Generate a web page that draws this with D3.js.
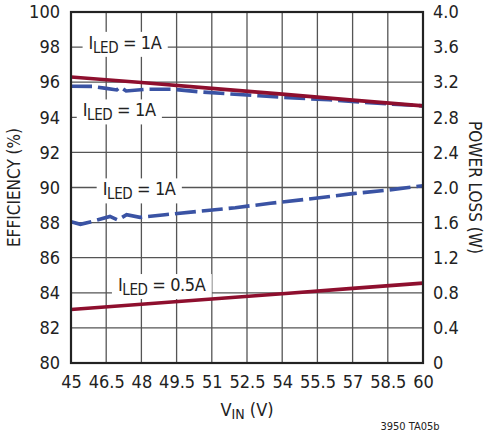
<!DOCTYPE html>
<html><head><meta charset="utf-8">
<script src="https://cdn.jsdelivr.net/npm/d3@7"></script>
<style>
body{margin:0;background:#fff;}
svg text{font-family:"Liberation Sans Narrow","DejaVu Sans",sans-serif;font-stretch:condensed;fill:#222;}
</style></head>
<body><svg id="c" width="486" height="433"></svg>
<script>
// ---- data ----
const xTicks = [45,46.5,48,49.5,51,52.5,54,55.5,57,58.5,60];
const xTickLabels = ["45","46.5","48","49.5","51","52.5","54","55.5","57","58.5","60"];
const effTicks = [80,82,84,86,88,90,92,94,96,98,100];
const lossTicks = [0,0.4,0.8,1.2,1.6,2.0,2.4,2.8,3.2,3.6,4.0];
const lossTickLabels = ["0","0.4","0.8","1.2","1.6","2.0","2.4","2.8","3.2","3.6","4.0"];

// efficiency, red solid
const effRedX = [45,48,51,54,57,60];
const effRed  = [96.3,95.98,95.65,95.32,94.98,94.65];
// efficiency, blue dashed
const effBlueX = [45,45.9,46.5,46.95,47.1,47.35,48.2,49.3,50.5,51.8,53,54.5,56,57.4,58.7,60];
const effBlue  = [95.77,95.76,95.65,95.56,95.72,95.5,95.6,95.6,95.45,95.33,95.23,95.1,95.0,94.86,94.75,94.65];
// power loss, blue dashed
const lossBlueX = [45,45.4,46,46.66,47.0,47.37,47.94,49,50.5,52,53.5,55.5,57,58.5,60];
const lossBlue  = [1.61,1.58,1.62,1.67,1.63,1.69,1.66,1.69,1.73,1.77,1.82,1.88,1.93,1.97,2.02];
// power loss, red solid
const lossRedX = [45,48,51,54,57,60];
const lossRed  = [0.61,0.67,0.73,0.79,0.85,0.91];

const labels = [
  {sub:"LED", pre:"I", post:" = 1A", v:45.75, e:97.9},
  {sub:"LED", pre:"I", post:" = 1A", v:45.5, e:94.05},
  {sub:"LED", pre:"I", post:" = 1A", v:46.35, e:89.55},
  {sub:"LED", pre:"I", post:" = 0.5A", v:47.0, e:84.1}
];

// ---- drawing ----
const svg = d3.select("#c");
const L=71, R=423, T=12, B=363;
const x = d3.scaleLinear().domain([45,60]).range([L,R]);
const y = d3.scaleLinear().domain([80,100]).range([B,T]);
const y2 = d3.scaleLinear().domain([0,4]).range([B,T]);
const RED="#8e0f2e", BLUE="#3a53a4";

// grid
const g = svg.append("g");
g.selectAll(".vg").data(xTicks).enter().append("line")
  .attr("x1",d=>x(d)).attr("x2",d=>x(d)).attr("y1",T).attr("y2",B)
  .attr("stroke","#555").attr("stroke-width",1.3);
g.selectAll(".hg").data(effTicks).enter().append("line")
  .attr("y1",d=>y(d)).attr("y2",d=>y(d)).attr("x1",L).attr("x2",R)
  .attr("stroke","#555").attr("stroke-width",1.3);

function styleAxis(s){
  s.select(".domain").remove();
  s.attr("font-family",null).attr("font-size",null);
  s.selectAll("text").style("font-size","18px").attr("fill","#222");
}
const ax = d3.axisLeft(y).tickValues(effTicks).tickSize(0).tickPadding(11).tickFormat(d3.format("d"));
svg.append("g").attr("transform",`translate(${L},0)`).call(ax).call(styleAxis);
const ax2 = d3.axisRight(y2).tickValues(lossTicks).tickSize(0).tickPadding(10).tickFormat((d,i)=>lossTickLabels[i]);
svg.append("g").attr("transform",`translate(${R},0)`).call(ax2).call(styleAxis);
const axb = d3.axisBottom(x).tickValues(xTicks).tickSize(0).tickPadding(12).tickFormat((d,i)=>xTickLabels[i]);
svg.append("g").attr("transform",`translate(0,${B})`).call(axb).call(styleAxis);

// labels with white boxes
const boxG = svg.append("g");
const lblG = svg.append("g");
labels.forEach(l=>{
  const t = lblG.append("text").attr("x",x(l.v)).attr("y",y(l.e)).style("font-size","18px")
    .style("letter-spacing","-0.4px");
  t.append("tspan").text(l.pre);
  t.append("tspan").text(l.sub).attr("dy",4).style("font-size","15px");
  t.append("tspan").text(l.post).attr("dy",-4);
  const bb = t.node().getBBox();
  boxG.append("rect").attr("x",bb.x-6).attr("y",bb.y).attr("width",bb.width+12).attr("height",bb.height)
    .attr("fill","#fff");
});

// lines
const lineE = d3.line().x(d=>x(d[0])).y(d=>y(d[1]));
const lineP = d3.line().x(d=>x(d[0])).y(d=>y2(d[1]));
svg.append("path").datum(effBlueX.map((v,i)=>[v,effBlue[i]])).attr("d",lineE)
  .attr("fill","none").attr("stroke",BLUE).attr("stroke-width",3.6).attr("stroke-dasharray","21,6");
svg.append("path").datum(effRedX.map((v,i)=>[v,effRed[i]])).attr("d",lineE)
  .attr("fill","none").attr("stroke",RED).attr("stroke-width",3.6);
svg.append("path").datum(lossBlueX.map((v,i)=>[v,lossBlue[i]])).attr("d",lineP)
  .attr("fill","none").attr("stroke",BLUE).attr("stroke-width",3.6).attr("stroke-dasharray","21,6");
svg.append("path").datum(lossRedX.map((v,i)=>[v,lossRed[i]])).attr("d",lineP)
  .attr("fill","none").attr("stroke",RED).attr("stroke-width",3.6);

// frame
svg.append("rect").attr("x",L).attr("y",T).attr("width",R-L).attr("height",B-T)
  .attr("fill","none").attr("stroke","#222").attr("stroke-width",2.2);

// axis titles
svg.append("text").attr("transform",`translate(20,${(T+B)/2}) rotate(-90)`)
  .attr("text-anchor","middle").style("font-size","17px").text("EFFICIENCY (%)");
svg.append("text").attr("transform",`translate(469,${(T+B)/2}) rotate(90)`)
  .attr("text-anchor","middle").style("font-size","17px").text("POWER LOSS (W)");
const xt = svg.append("text").attr("x",(L+R)/2).attr("y",416).attr("text-anchor","middle").style("font-size","18px");
xt.append("tspan").text("V");
xt.append("tspan").text("IN").attr("dy",3).style("font-size","14px");
xt.append("tspan").text(" (V)").attr("dy",-3);
svg.append("text").attr("x",410).attr("y",430).attr("text-anchor","middle").style("font-size","11px").text("3950 TA05b");
</script></body></html>
